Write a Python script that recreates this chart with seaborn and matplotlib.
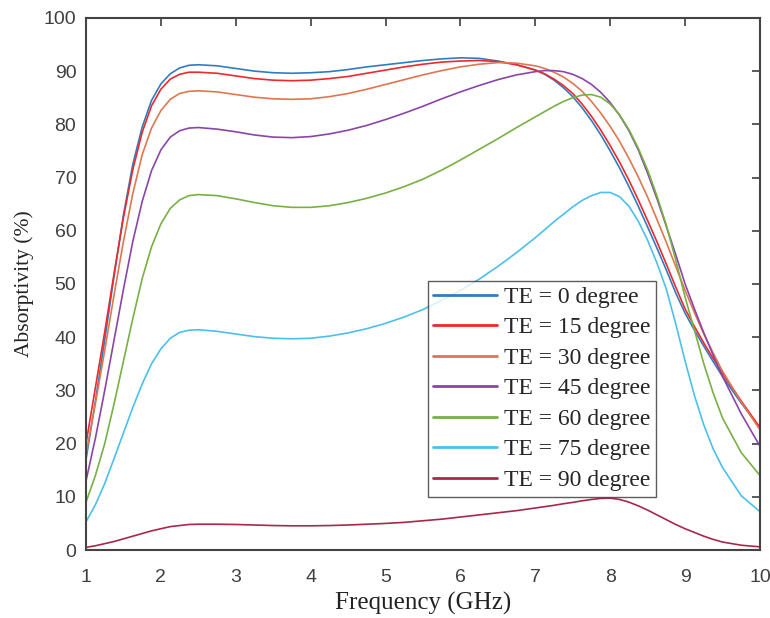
import numpy as np
import pandas as pd
import seaborn as sns
import matplotlib
matplotlib.use("Agg")
import matplotlib.pyplot as plt

# frequency grid (GHz), finer where the curves bend
freq = [1.0, 1.125, 1.25, 1.375, 1.5, 1.625, 1.75, 1.875, 2.0, 2.125, 2.25, 2.375, 2.5,
        2.75, 3.0, 3.25, 3.5, 3.75, 4.0, 4.25, 4.5, 4.75, 5.0, 5.25, 5.5, 5.75, 6.0,
        6.25, 6.5, 6.75, 7.0,
        7.125, 7.25, 7.375, 7.5, 7.625, 7.75, 7.875, 8.0, 8.125, 8.25, 8.375, 8.5,
        8.625, 8.75, 8.875, 9.0, 9.125, 9.25, 9.375, 9.5, 9.75, 10.0]

# absorptivity (%)
te_0 = [17, 28, 39.5, 51.5, 63, 72.5, 79.5, 84.5, 87.6, 89.5, 90.6, 91.1, 91.2,
        91.0, 90.5, 90.0, 89.7, 89.6, 89.7, 89.9, 90.3, 90.8, 91.2, 91.6, 92.0, 92.3, 92.5,
        92.4, 91.9, 91.2, 90.2,
        89.4, 88.3, 86.9, 85.2, 83.1, 80.7, 78.0, 75.0, 71.8, 68.3, 64.6, 60.7,
        56.7, 52.6, 48.3, 44.5, 41.3, 38.3, 35.4, 32.6, 27.6, 23.0]
te_15 = [20, 30.5, 41, 52, 62.5, 71.5, 78.5, 83.5, 86.6, 88.5, 89.4, 89.8, 89.8,
         89.6, 89.1, 88.6, 88.3, 88.2, 88.3, 88.6, 89.0, 89.6, 90.2, 90.8, 91.3, 91.7, 91.9,
         92.0, 91.8, 91.2, 90.2,
         89.5, 88.5, 87.3, 85.8, 83.8, 81.5, 78.9, 76.0, 72.9, 69.5, 65.8, 61.9,
         57.9, 53.7, 49.4, 45.3, 42.0, 38.9, 36.0, 33.2, 28.0, 23.0]
te_30 = [18, 27.5, 37.5, 48, 58, 67, 74.3, 79.3, 82.6, 84.7, 85.8, 86.2, 86.3,
         86.1, 85.6, 85.1, 84.8, 84.7, 84.8, 85.2, 85.8, 86.6, 87.5, 88.4, 89.3, 90.1, 90.8,
         91.3, 91.6, 91.5, 91.0,
         90.5, 89.8, 88.9, 87.7, 86.2, 84.3, 82.1, 79.6, 76.8, 73.6, 70.1, 66.3,
         62.1, 57.8, 53.3, 48.8, 44.6, 40.6, 37.0, 33.6, 27.8, 22.6]
te_45 = [13, 21, 30, 39.5, 49, 58, 65.5, 71.3, 75.2, 77.6, 78.8, 79.3, 79.4,
         79.1, 78.6, 78.0, 77.6, 77.5, 77.7, 78.2, 78.9, 79.8, 80.9, 82.1, 83.4, 84.8, 86.1,
         87.3, 88.4, 89.3, 89.9,
         90.1, 90.1, 89.9, 89.4, 88.6, 87.5, 86.0, 84.1, 81.7, 78.8, 75.2, 70.8,
         66.0, 60.8, 55.5, 50.0, 45.3, 40.8, 36.6, 32.6, 25.6, 19.5]
te_60 = [9, 14, 20, 27.5, 35.5, 43.5, 51, 57, 61.3, 64.2, 65.8, 66.6, 66.8,
         66.6, 66.0, 65.3, 64.7, 64.4, 64.4, 64.7, 65.3, 66.1, 67.1, 68.3, 69.7, 71.4, 73.3,
         75.3, 77.3, 79.4, 81.4,
         82.4, 83.4, 84.3, 85.0, 85.5, 85.6, 85.1, 83.8, 81.8, 79.0, 75.5, 71.4,
         66.5, 61.0, 54.5, 47.5, 41.3, 35.0, 29.5, 24.8, 18.3, 14.0]
te_75 = [5.3, 8.5, 12.5, 17.2, 22, 26.8, 31.2, 35.0, 37.8, 39.8, 40.9, 41.3, 41.4,
         41.1, 40.6, 40.1, 39.8, 39.7, 39.8, 40.2, 40.8, 41.6, 42.6, 43.8, 45.2, 46.9, 48.8,
         50.9, 53.3, 55.9, 58.7,
         60.2, 61.7, 63.1, 64.5, 65.7, 66.6, 67.2, 67.2, 66.4, 64.6, 61.8, 58.2,
         53.9, 49.0, 42.5, 35.5, 29.0, 23.5, 19.0, 15.5, 10.2, 7.2]
te_90 = [0.5, 0.8, 1.2, 1.6, 2.1, 2.6, 3.1, 3.6, 4.0, 4.4, 4.6, 4.8, 4.85,
         4.85, 4.8, 4.7, 4.6, 4.55, 4.55, 4.6, 4.7, 4.85, 5.0, 5.2, 5.5, 5.8, 6.2,
         6.6, 7.0, 7.4, 7.9,
         8.15, 8.4, 8.7, 8.95, 9.25, 9.5, 9.7, 9.75, 9.5, 9.0, 8.3, 7.5,
         6.6, 5.7, 4.8, 4.0, 3.3, 2.6, 2.0, 1.5, 0.9, 0.6]

labels = ["TE = 0 degree", "TE = 15 degree", "TE = 30 degree", "TE = 45 degree",
          "TE = 60 degree", "TE = 75 degree", "TE = 90 degree"]
series = [te_0, te_15, te_30, te_45, te_60, te_75, te_90]
colors = ["#2F7DC0", "#F0282C", "#E07650", "#8A45A8", "#78B045", "#4CC0EC", "#A8284A"]

df = pd.concat([pd.DataFrame({"freq": freq, "absorb": s, "label": lab})
                for lab, s in zip(labels, series)], ignore_index=True)

sns.set_style("white")
plt.rcParams["font.family"] = ["Liberation Serif", "DejaVu Serif"]

fig = plt.figure(figsize=(7.7, 6.18), dpi=100)
ax = fig.add_axes([0.1117, 0.110, 0.8753, 0.861])

sns.lineplot(data=df, x="freq", y="absorb", hue="label", hue_order=labels,
             palette=colors, linewidth=1.2, ax=ax, sort=False)

ax.set_xlim(1, 10)
ax.set_ylim(0, 100)
ax.set_xticks(range(1, 11))
ax.set_yticks(range(0, 101, 10))
ax.tick_params(direction="in", length=6, width=1.2, top=True, right=True,
               labelsize=14, colors="#404040", pad=7)
ax.tick_params(axis="x", pad=14)
for lab in ax.get_xticklabels() + ax.get_yticklabels():
    lab.set_fontfamily("Liberation Sans")
for sp in ax.spines.values():
    sp.set_color("#444444")
    sp.set_linewidth(1.5)

ax.set_xlabel("Frequency (GHz)", fontsize=18, color="#222222", labelpad=4)
ax.set_ylabel("Absorptivity (%)", fontsize=15.5, color="#222222", labelpad=7)

leg = ax.legend(loc="upper left", bbox_to_anchor=(0.507, 0.506), borderaxespad=0,
                fontsize=17, handlelength=2.7, handletextpad=0.3,
                labelspacing=0.38, borderpad=0.24, frameon=True, fancybox=False)
leg.get_frame().set_edgecolor("#333333")
leg.get_frame().set_linewidth(1.0)
for ln in leg.get_lines():
    ln.set_linewidth(2.0)

fig.savefig("out.png", dpi=100)
